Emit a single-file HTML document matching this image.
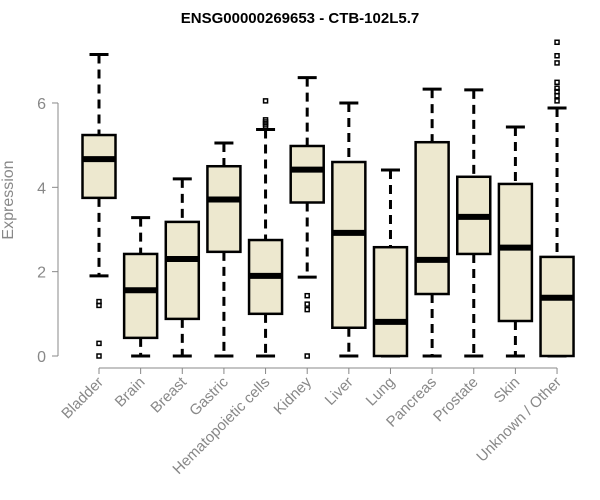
<!DOCTYPE html>
<html><head><meta charset="utf-8"><style>
body{margin:0;background:#fff}
svg{display:block;font-family:"Liberation Sans",Arial,sans-serif}
</style></head><body>
<svg id="chart" width="600" height="500" viewBox="0 0 600 500">
<text x="300" y="23" text-anchor="middle" font-weight="bold" font-size="15">ENSG00000269653 - CTB-102L5.7</text>
<text transform="translate(13,200) rotate(-90)" text-anchor="middle" font-size="16" fill="#888">Expression</text>
<g id="plot"></g>
</svg>
<script>
const categories=["Bladder","Brain","Breast","Gastric","Hematopoietic cells","Kidney","Liver","Lung","Pancreas","Prostate","Skin","Unknown / Other"];
const whiskerLow=[1.9,0,0,0,0,1.87,0,0,0,0,0,0];
const q1=[3.75,0.43,0.88,2.47,1.0,3.64,0.67,0,1.47,2.42,0.83,0];
const medians=[4.67,1.56,2.3,3.71,1.9,4.42,2.92,0.81,2.28,3.3,2.57,1.38];
const q3=[5.24,2.42,3.18,4.5,2.75,4.98,4.6,2.58,5.07,4.25,4.08,2.35];
const whiskerHigh=[7.15,3.28,4.2,5.05,5.37,6.6,6.0,4.41,6.33,6.31,5.43,5.88];
const outliers=[[1.29,1.2,0.3,0],[],[],[],[6.05,5.6,5.55,5.5,5.45],[1.43,1.23,1.1,0],[],[],[],[],[],[7.44,7.12,6.95,6.49,6.35,6.27,6.17,6.05]];
const yTicks=[0,2,4,6];
const NS="http://www.w3.org/2000/svg";
const g=document.getElementById('plot');
const y=v=>356-v*42.17;
const x=i=>99+i*41.64;
function mk(tag,attrs,parent){const e=document.createElementNS(NS,tag);for(const k in attrs)e.setAttribute(k,attrs[k]);(parent||g).appendChild(e);return e;}
let ya=mk('line',{x1:58,x2:58,y1:y(0),y2:y(6),stroke:'#888'});


yTicks.forEach(t=>{
 let tl=mk('line',{x1:52,x2:58,y1:y(t),y2:y(t),stroke:'#888'});
 
 
 let tx=mk('text',{x:46,y:y(t)+6,'text-anchor':'end','font-size':16,fill:'#888'});
 tx.textContent=t;
 
 
});
let xa=mk('line',{x1:x(0),x2:x(categories.length-1),y1:368,y2:368,stroke:'#888'});


categories.forEach((c,i)=>{
 const cx=x(i);
 let tl=mk('line',{x1:cx,x2:cx,y1:368,y2:374,stroke:'#888'});
 
 
 let tx=mk('text',{transform:`translate(${cx+5},383) rotate(-45)`,'text-anchor':'end','font-size':15,fill:'#888'});
 tx.textContent=c;
 
 
 const grp=mk('g',{});
 
 
 mk('line',{x1:cx,x2:cx,y1:y(whiskerHigh[i]),y2:y(q3[i]),stroke:'#000','stroke-width':3,'stroke-dasharray':'9,6'},grp);
 mk('line',{x1:cx,x2:cx,y1:y(q1[i]),y2:y(whiskerLow[i]),stroke:'#000','stroke-width':3,'stroke-dasharray':'9,6'},grp);
 mk('line',{x1:cx-9.5,x2:cx+9.5,y1:y(whiskerHigh[i]),y2:y(whiskerHigh[i]),stroke:'#000','stroke-width':3},grp);
 mk('line',{x1:cx-9.5,x2:cx+9.5,y1:y(whiskerLow[i]),y2:y(whiskerLow[i]),stroke:'#000','stroke-width':3},grp);
 mk('rect',{x:cx-16.5,y:y(q3[i]),width:33,height:y(q1[i])-y(q3[i]),fill:'#ede8cf',stroke:'#000','stroke-width':2.5},grp);
 mk('line',{x1:cx-16.5,x2:cx+16.5,y1:y(medians[i]),y2:y(medians[i]),stroke:'#000','stroke-width':6},grp);
 outliers[i].forEach(o=>{
  let r=mk('rect',{x:cx-2,y:y(o)-2,width:4,height:4,fill:'none',stroke:'#000','stroke-width':1.5},grp);
  
  
 });
});
</script>
</body></html>
